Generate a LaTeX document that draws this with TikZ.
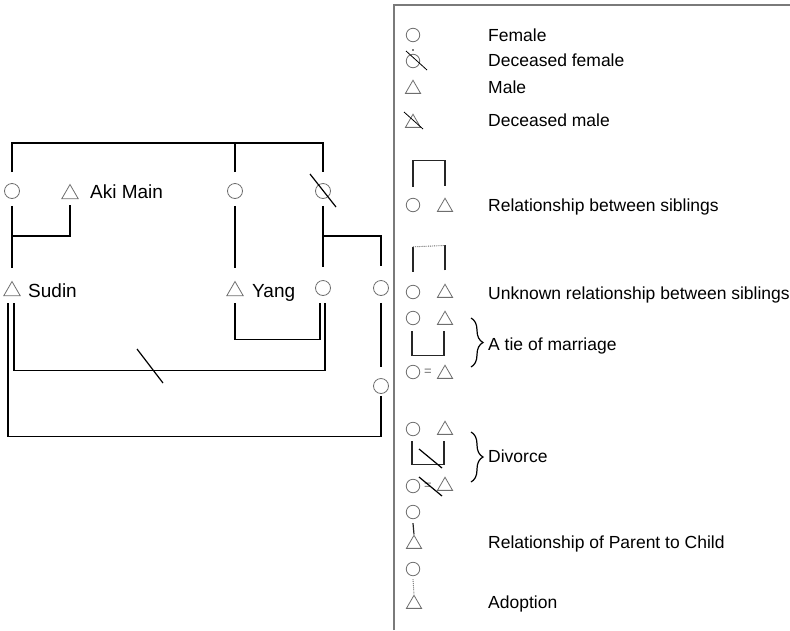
\documentclass[tikz,border=0pt]{standalone}
\usepackage{fontspec}
\setmainfont{Liberation Sans}
\usetikzlibrary{shapes.geometric, decorations.pathreplacing}
\definecolor{symbolgray}{HTML}{6E6E6E}
\definecolor{framegray}{HTML}{7A7A7A}
\tikzstyle{female_node} = [
    circle, 
    draw=symbolgray, 
    line width=0.8pt, 
    inner sep=0pt, 
    minimum size=15pt
]
\tikzstyle{male_node} = [
    regular polygon, 
    regular polygon sides=3, 
    draw=symbolgray, 
    line width=0.8pt, 
    inner sep=0pt, 
    minimum size=19pt % side of about 16
]
\tikzstyle{key_female} = [female_node, minimum size=13.5pt]
\tikzstyle{key_male} = [male_node, minimum size=17.5pt]
\tikzstyle{name_label} = [
    anchor=base west, 
    inner sep=0pt, 
    font=\fontsize{19}{22}\selectfont
]
\tikzstyle{key_label} = [
    anchor=base west, 
    inner sep=0pt, 
    font=\fontsize{17.5}{20}\selectfont
]
\tikzstyle{tie} = [line width=1.3pt, black]
\tikzstyle{key_line} = [line width=1.2pt, black!85]
\tikzstyle{unknown_line} = [line width=0.9pt, densely dotted, black!60]
\tikzstyle{dead_mark} = [line width=1.2pt, black]
\tikzstyle{key_brace} = [
    line width=1.2pt, 
    decorate, 
    decoration={brace, amplitude=12pt}
]

\begin{document}
\begin{tikzpicture}[x=1pt, y=1pt]
\useasboundingbox (0,0) rectangle (790,-630);

% first generation
\node [female_node] (f1) at (12,-191) {};
\node [male_node] (aki) at (70,-194) {};
\node [female_node] (f2) at (235,-191) {};
\node [female_node] (fd) at (323,-191) {};
\node [name_label] (aki_name) at (90,-198) {Aki Main};

% second generation
\node [male_node] (sudin) at (12,-291) {};
\node [male_node] (yang) at (235,-291) {};
\node [female_node] (f3) at (323,-288) {};
\node [female_node] (f4) at (381,-288) {};
\node [female_node] (f5) at (381,-386) {};
\node [name_label] (sudin_name) at (28,-297) {Sudin};
\node [name_label] (yang_name) at (252,-297) {Yang};

% siblings
\draw [tie] ([yshift=11pt]f1.north) -- ++(0,29) -| ([yshift=11pt]fd.north);
\draw [tie] ([yshift=11pt]f2.north) -- ++(0,29);
\draw [dead_mark] (fd) ++(-13,17) -- ++(26,-33);

% parents to children
\draw [tie] ([yshift=-7pt]f1.south) -- ([yshift=13pt]sudin.north);
\draw [tie] (f1 |- 0,-236) -| ([yshift=-6pt]aki.south);
\draw [tie] ([yshift=-7pt]f2.south) -- ([yshift=13pt]yang.north);
\draw [tie] ([yshift=-7pt]fd.south) -- ([yshift=13pt]f3.north);
\draw [tie] (fd |- 0,-236) -| ([yshift=14pt]f4.north);
\draw [tie] ([yshift=-7pt]f4.south) -- ([yshift=11pt]f5.north);

% marriages
\draw [tie] ([yshift=-7pt]yang.south) -- ++(0,-36) -| ([xshift=-3pt,yshift=-7pt]f3.south);
\draw [tie] ([xshift=2pt,yshift=-7pt]sudin.south) -- ++(0,-67) -| ([xshift=2pt,yshift=-7pt]f3.south);
\draw [dead_mark] (137,-349) -- (163,-383);
\draw [tie] ([xshift=-4pt,yshift=-7pt]sudin.south) -- ++(0,-133) -| ([yshift=-2pt]f5.south);

% key
\draw [line width=2pt, framegray] (394,-630) -- (394,-5) -- (790,-5);

\node [key_female] (k_f) at (413,-35) {};
\node [key_label] (k_f_text) at (488,-41) {Female};

\node [key_female] (k_df) at (413,-61) {};
\fill [black] (413,-50) circle (0.9pt);
\draw [line width=0.8pt, black] (406,-51) -- (427,-70);
\node [key_label] (k_df_text) at (488,-66) {Deceased female};

\node [key_male] (k_m) at (413,-89) {};
\node [key_label] (k_m_text) at (488,-93) {Male};

\node [key_male] (k_dm) at (413,-123) {};
\draw [line width=0.8pt, black] (404,-112) -- (423,-129);
\node [key_label] (k_dm_text) at (488,-126) {Deceased male};

\node [key_female] (k_sf) at (413,-205) {};
\node [key_male] (k_sm) at (445,-207) {};
\draw [key_line] ([yshift=11pt]k_sf.north) -- ++(0,26) -| ([yshift=11pt]k_sm.north);
\node [key_label] (k_s_text) at (488,-211) {Relationship between siblings};

\node [key_female] (k_uf) at (413,-292) {};
\node [key_male] (k_um) at (445,-293) {};
\draw [key_line] ([yshift=13pt]k_uf.north) -- ++(0,25) coordinate (u1);
\draw [key_line] ([yshift=13pt]k_um.north) -- ++(0,25) coordinate (u2);
\draw [unknown_line] (u1) -- (u2);
\node [key_label] (k_u_text) at (488,-299) {Unknown relationship between siblings};

\node [key_female] (k_mf) at (413,-318) {};
\node [key_male] (k_mm) at (445,-320) {};
\draw [key_line] ([xshift=-1pt,yshift=-6pt]k_mf.south) -- ++(0,-24) -| ([xshift=-1pt,yshift=-6pt]k_mm.south);
\node [key_female] (k_mf2) at (413,-372) {};
\node [text=symbolgray, inner sep=0pt, font=\fontsize{13}{13}\selectfont] (k_eq) at (428,-372) {=};
\node [key_male] (k_mm2) at (445,-374) {};
\draw [key_brace] (471,-318) -- (471,-367);
\node [key_label] (k_m_text) at (488,-350) {A tie of marriage};

\node [key_female] (k_xf) at (413,-429) {};
\node [key_male] (k_xm) at (445,-430) {};
\draw [key_line] ([xshift=-1pt,yshift=-5pt]k_xf.south) -- ++(0,-23) -| ([xshift=-1pt,yshift=-6pt]k_xm.south);
\draw [dead_mark] (419,-449) -- (442,-468);
\node [key_female] (k_xf2) at (413,-486) {};
\node [text=symbolgray, inner sep=0pt, font=\fontsize{13}{13}\selectfont] (k_eq2) at (428,-486) {=};
\node [key_male] (k_xm2) at (445,-486) {};
\draw [dead_mark] (419,-477) -- (442,-496);
\draw [key_brace] (471,-432) -- (471,-482);
\node [key_label] (k_x_text) at (488,-462) {Divorce};

\node [key_female] (k_pf) at (413,-512) {};
\node [key_male] (k_pm) at (414,-544) {};
\draw [key_line] ([yshift=-4pt]k_pf.south) -- (k_pm.north);
\node [key_label] (k_p_text) at (488,-548) {Relationship of Parent to Child};

\node [key_female] (k_af) at (413,-569) {};
\node [key_male] (k_am) at (414,-604) {};
\draw [unknown_line] ([yshift=-3pt]k_af.south) -- (k_am.north);
\node [key_label] (k_a_text) at (488,-608) {Adoption};
\end{tikzpicture}
\end{document}
